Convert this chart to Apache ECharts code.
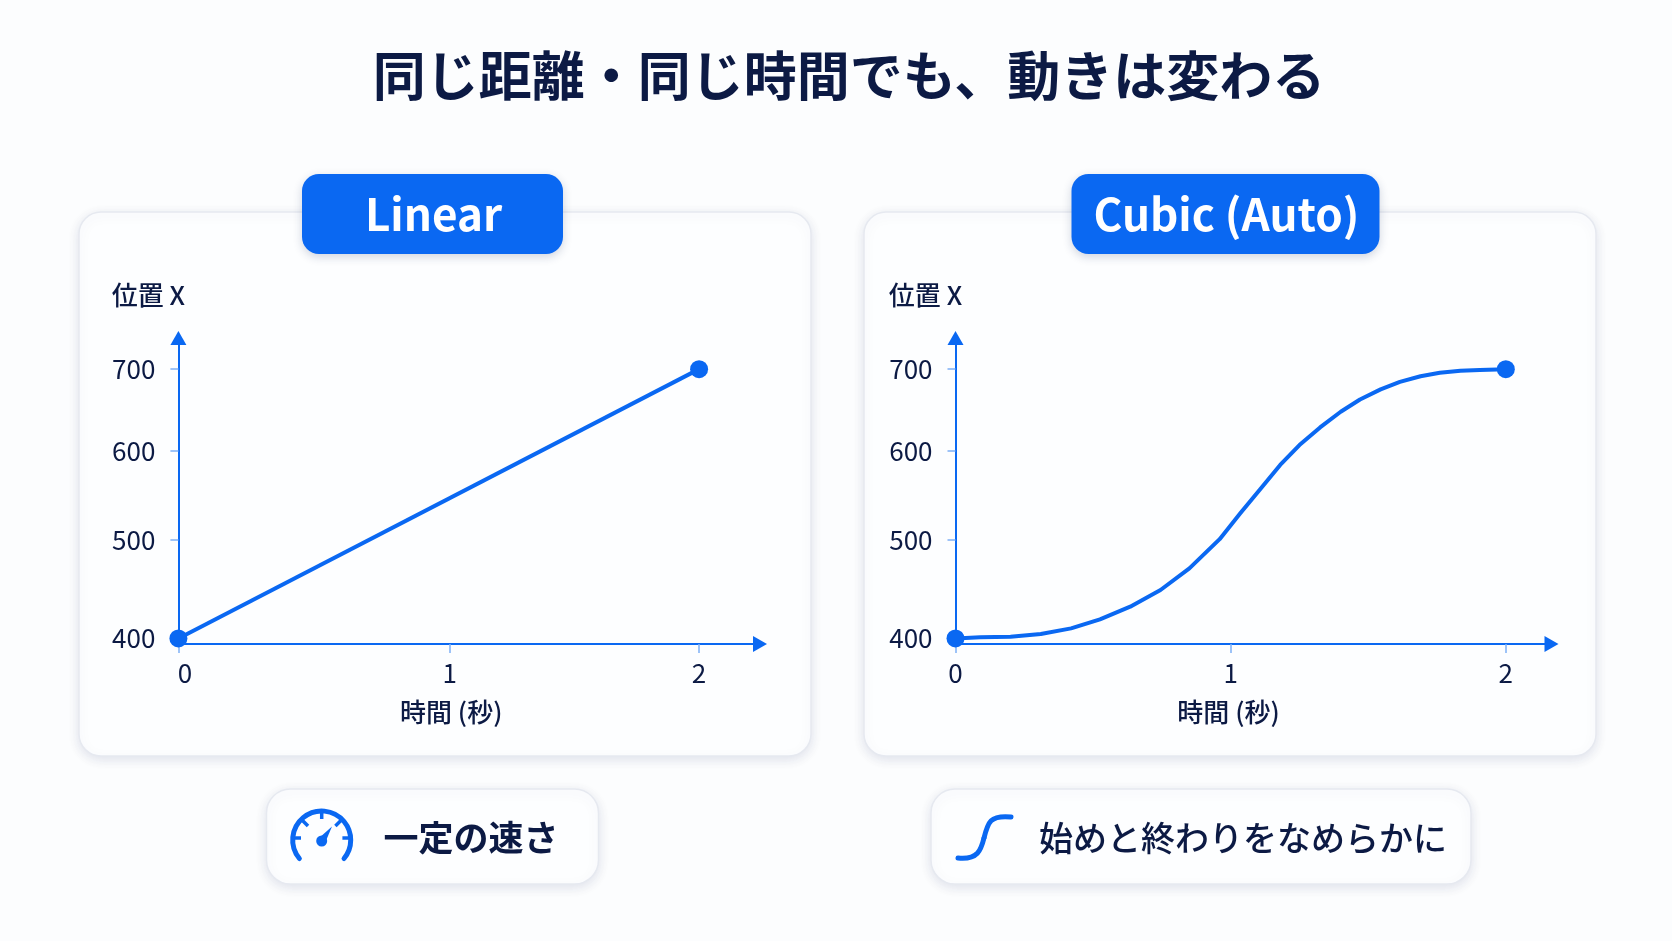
<!DOCTYPE html>
<html lang="ja">
<head>
<meta charset="utf-8">
<style>html,body{margin:0;padding:0;background:#fcfdfe}#c{width:1672px;height:941px}</style>
<script src="https://cdn.jsdelivr.net/npm/echarts@6/dist/echarts.min.js"></script>
</head>
<body>
<div id="c"></div>
<script>
const titleText = '同じ距離・同じ時間でも、動きは変わる';
const panelTitles = ['Linear', 'Cubic (Auto)'];
const captions = ['一定の速さ', '始めと終わりをなめらかに'];
const yAxisName = '位置 X';
const xAxisName = '時間 (秒)';
const yTicks = [400, 500, 600, 700];
const xTicks = [0, 1, 2];
const linearTime = [0, 2];
const linearPos = [400, 700];
const cubicTime = [0, 0.09, 0.2, 0.31, 0.42, 0.525, 0.635, 0.745, 0.85, 0.96, 1.035, 1.105, 1.18, 1.25, 1.325, 1.4, 1.47, 1.545, 1.615, 1.69, 1.76, 1.835, 1.905, 2];
const cubicPos = [400, 401, 401.6, 404.2, 409.7, 418.5, 431, 447.8, 470, 500.9, 529, 555, 583.7, 607, 628, 647, 662, 674.6, 684, 691, 695.4, 698, 699, 700];

const BLUE = '#0a68f2', INK = '#0c1a44', TICK = '#7db0f6';
const FONT = '"Noto Sans CJK JP","Noto Sans",sans-serif';

// The reference's hand-drawn axes are unevenly spaced: position follows a power scale.
const yPow = 0.5, xPowLeft = 0.94, xPowRight = 1;
const yf = v => Math.pow(v, yPow), yi = u => Math.round(Math.pow(u, 1 / yPow));

function axes(i, xp, xMax) {
  const xf = v => Math.pow(v, xp), xi = u => Math.round(Math.pow(u, 1 / xp));
  const xv = xTicks.map(xf), yv = yTicks.map(yf);
  const line = {show: true, onZero: false, symbol: ['none', 'triangle'], symbolSize: [16, 14], lineStyle: {color: BLUE, width: 2}};
  return {
    x: {
      type: 'value', gridIndex: i, min: 0, max: xMax, splitLine: {show: false},
      axisLine: line,
      axisTick: {show: true, length: 9, customValues: xv, lineStyle: {color: TICK, width: 1.5}},
      axisLabel: {
        customValues: xv, margin: 16, fontFamily: FONT, fontSize: 26, color: INK,
        formatter: u => { const t = xi(u); return (t === 0 && i === 0) ? '{z|0}' : String(t); },
        rich: {z: {padding: [0, 0, 0, 13], fontFamily: FONT, fontSize: 26, color: INK}}
      },
      name: xAxisName, nameLocation: 'middle', nameGap: 55,
      nameTextStyle: {fontFamily: FONT, fontSize: 26, fontWeight: 500, color: INK, padding: i === 0 ? [0, 36, 0, 0] : [0, 50, 0, 0]}
    },
    y: {
      type: 'value', gridIndex: i, min: 19.866, max: 27.204, splitLine: {show: false},
      axisLine: line,
      axisTick: {show: true, length: 8, customValues: yv, lineStyle: {color: TICK, width: 1.5}},
      axisLabel: {customValues: yv, margin: 23, fontFamily: FONT, fontSize: 26, color: INK, formatter: u => String(yi(u))},
      name: yAxisName, nameLocation: 'end', nameGap: 30,
      nameTextStyle: {fontFamily: FONT, fontSize: 26, fontWeight: 500, color: INK, align: 'center', padding: [0, 60, 0, 0]}
    }
  };
}
const a0 = axes(0, xPowLeft, 2.143), a1 = axes(1, xPowRight, 2.166);

function seriesOf(i, ts, ps, xp, smooth) {
  return {
    type: 'line', xAxisIndex: i, yAxisIndex: i, smooth: smooth, animation: false, z: 5,
    data: ts.map((t, k) => [Math.pow(t, xp), yf(ps[k])]),
    lineStyle: {color: BLUE, width: 4, join: 'round'},
    itemStyle: {color: BLUE},
    showSymbol: true, showAllSymbol: true, symbol: 'circle',
    symbolSize: (v, p) => (p.dataIndex === 0 || p.dataIndex === ts.length - 1) ? 18 : 0
  };
}

const shadow = {shadowBlur: 12, shadowColor: 'rgba(25,45,95,0.12)', shadowOffsetY: 3};
const card = (x, y, w, h, r) => ({type: 'rect', z: -5, shape: {x, y, width: w, height: h, r},
  style: Object.assign({fill: '#fdfeff', stroke: '#e6e9f0', lineWidth: 1.5}, shadow)});
const pill = (x, y, w, h, label) => [
  {type: 'rect', z: -3, shape: {x, y, width: w, height: h, r: 17},
   style: {fill: BLUE, shadowBlur: 10, shadowColor: 'rgba(25,45,95,0.2)', shadowOffsetY: 3}},
  {type: 'text', z: -2, style: {x: x + w / 2 + 1, y: y + h / 2, text: label, align: 'center', verticalAlign: 'middle',
    fill: '#fff', font: '700 44px ' + FONT}}
];
const stroke = {stroke: BLUE, lineWidth: 5, fill: 'none', lineCap: 'round'};
const tickLine = (x1, y1, x2, y2) => ({type: 'line', z: 3, shape: {x1, y1, x2, y2}, style: {stroke: BLUE, lineWidth: 3.5, lineCap: 'butt'}});

const graphic = [
  {type: 'text', z: 3, style: {x: 849, y: 76, text: titleText, align: 'center', verticalAlign: 'middle', fill: INK, font: '700 53px ' + FONT}},
  card(79, 212, 732, 544, 22), card(864, 212, 732, 544, 22),
  ...pill(302, 174, 261, 80, panelTitles[0]), ...pill(1071.5, 174, 308, 80, panelTitles[1]),
  card(266.5, 789, 332, 95, 24), card(931, 789, 540, 95, 24),
  {type: 'arc', z: 3, shape: {cx: 321.7, cy: 840, r: 29, startAngle: Math.PI * 0.78, endAngle: Math.PI * 0.22, clockwise: true}, style: stroke},
  tickLine(321.7, 812, 321.7, 819), tickLine(302, 820, 308, 826), tickLine(341.4, 820, 335.4, 826),
  tickLine(294, 838, 301, 838), tickLine(342.4, 838, 349.4, 838),
  {type: 'polygon', z: 3, shape: {points: [[318.5, 838.5], [332, 826.5], [325, 843]]}, style: {fill: BLUE}},
  {type: 'circle', z: 3, shape: {cx: 321.7, cy: 841, r: 5.5}, style: {fill: BLUE}},
  {type: 'text', z: 3, style: {x: 471, y: 838, text: captions[0], align: 'center', verticalAlign: 'middle', fill: INK, font: '700 35px ' + FONT}},
  {type: 'bezierCurve', z: 3, shape: {x1: 958, y1: 858, cpx1: 978, cpy1: 860, cpx2: 981, cpy2: 850, x2: 984, y2: 838}, style: stroke},
  {type: 'bezierCurve', z: 3, shape: {x1: 984, y1: 838, cpx1: 988, cpy1: 822, cpx2: 990, cpy2: 815, x2: 1011, y2: 817}, style: stroke},
  {type: 'text', z: 3, style: {x: 1243, y: 838, text: captions[1], align: 'center', verticalAlign: 'middle', fill: INK, font: '500 34px ' + FONT}}
];

const chart = echarts.init(document.getElementById('c'), null, {renderer: 'canvas'});
chart.setOption({
  animation: false,
  backgroundColor: '#fcfdfe',
  grid: [
    {left: 178.4, top: 338, width: 581.6, height: 306},
    {left: 955.5, top: 338, width: 596, height: 306}
  ],
  xAxis: [a0.x, a1.x],
  yAxis: [a0.y, a1.y],
  series: [
    seriesOf(0, linearTime, linearPos, xPowLeft, false),
    seriesOf(1, cubicTime, cubicPos, xPowRight, false)
  ],
  graphic: graphic
});
</script>
</body>
</html>
